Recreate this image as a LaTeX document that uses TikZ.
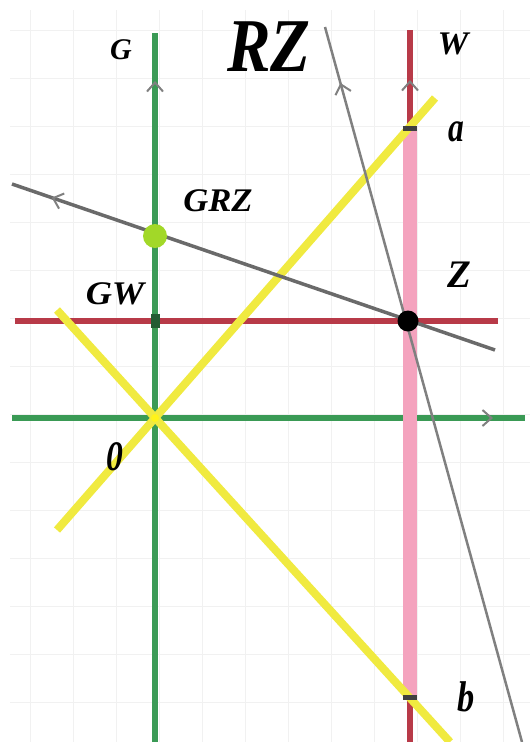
\documentclass[tikz,border=0pt]{standalone}
\usepackage{fontspec}
\setmainfont{Liberation Serif}
\usetikzlibrary{arrows.meta,decorations.markings}
\definecolor{axgreen}{HTML}{3A9A55}
\definecolor{axred}{HTML}{B83A48}
\definecolor{axpink}{HTML}{F4A3BE}
\definecolor{axyellow}{HTML}{F0EA40}
\definecolor{axgray}{HTML}{6A6A6A}
\definecolor{axgrayl}{HTML}{808080}
\definecolor{dotgreen}{HTML}{A2D828}
\definecolor{gridc}{HTML}{F1F1F1}
\begin{document}
\begin{tikzpicture}[x=1pt,y=-1pt,
  lbl/.style={font=\bfseries\itshape\fontsize{#1}{#1}\selectfont, inner sep=0pt},
  barbback/.style={postaction={decorate}, decoration={markings,
     mark=at position #1 with {\arrowreversed{Straight Barb[length=9pt,width=16pt,line width=2pt,color=axgrayl]}}}},
  barbfwd/.style={postaction={decorate}, decoration={markings,
     mark=at position #1 with {\arrow{Straight Barb[length=9pt,width=16pt,line width=2pt,color=axgrayl]}}}},
  mk/.style={fill=black!75, inner sep=0pt, minimum width=14pt, minimum height=5pt}]
\useasboundingbox (0,0) rectangle (530,742);
\fill[white] (0,0) rectangle (530,742);
% faint grid
\foreach \gx in {30,73,116,159,202,245,288,331,374,417,460,503}
  \draw[gridc, line width=0.8pt] (\gx,10) -- (\gx,742);
\foreach \gy in {30,78,126,174,222,270,318,366,414,462,510,558,606,654,702}
  \draw[gridc, line width=0.8pt] (10,\gy) -- (530,\gy);

% named points
\coordinate (gtop) at (155,33);
\coordinate (gbot) at (155,742);
\coordinate (hl) at (12,418);
\coordinate (hr) at (525,418);
\coordinate (rl) at (15,321);
\coordinate (rr) at (498,321);
\coordinate (wtop) at (410,30);
\coordinate (wbot) at (410,742);
\coordinate (a) at (410,128);
\coordinate (b) at (410,697);
\coordinate (o) at (155,418);
\coordinate (y1s) at (57,530);
\coordinate (y1e) at (435,98);
\coordinate (y2s) at (57,310);
\coordinate (y2e) at (450,742);
\coordinate (g1s) at (12,184);
\coordinate (g1e) at (495,350);
\coordinate (g2s) at (325,27);
\coordinate (g2e) at (522,742);

% green axes
\draw[axgreen, line width=6pt, barbback=48pt] (gtop) -- (gbot);
\draw[axgreen, line width=6pt, barbfwd=481pt] (hl) -- (hr);
% red horizontal
\draw[axred, line width=6pt] (rl) -- (rr);
% W axis: red and pink
\draw[axred, line width=6pt, barbback=50pt] (wtop) -- (wbot);
\draw[axpink, line width=14pt] (a) -- (b);
% yellow lines
\draw[axyellow, line width=8pt] (y1s) -- (y1e);
\draw[axyellow, line width=8pt] (y2s) -- (y2e);
% gray lines
\draw[axgray, line width=3.5pt, barbback=42pt] (g1s) -- (g1e);
\draw[axgrayl, line width=2.5pt, barbback=58pt] (g2s) -- (g2e);

% marks
\node[mk] (ma) at (a) {};
\node[mk] (mb) at (b) {};
\node[fill=axgreen!60!black, inner sep=0pt, minimum width=9pt, minimum height=14pt] (mgw) at (155,321) {};
% dots
\node[circle, fill=dotgreen, inner sep=0pt, minimum size=24pt] (grz) at (155,236) {};
\node[circle, fill=black, inner sep=0pt, minimum size=21pt] (z) at (408,321) {};
\node[circle, fill=yellow!90!white, inner sep=0pt, minimum size=8pt] (od) at (o) {};

% labels
\node[lbl=30] (lG) at (121,50) {G};
\node[lbl=76, xscale=0.86] (lRZ) at (269,47) {RZ};
\node[lbl=33, xscale=1.05] (lW) at (453,44) {W};
\node[lbl=42, xscale=0.75] (la) at (456,132) {a};
\node[lbl=33, xscale=1.05] (lGRZ) at (218,201) {GRZ};
\node[lbl=39] (lZ) at (459,275) {Z};
\node[lbl=33, xscale=1.1] (lGW) at (115,294) {GW};
\node[lbl=42, xscale=0.8] (l0) at (115,457) {0};
\node[lbl=43, xscale=0.8] (lb) at (466,697) {b};
\end{tikzpicture}
\end{document}
